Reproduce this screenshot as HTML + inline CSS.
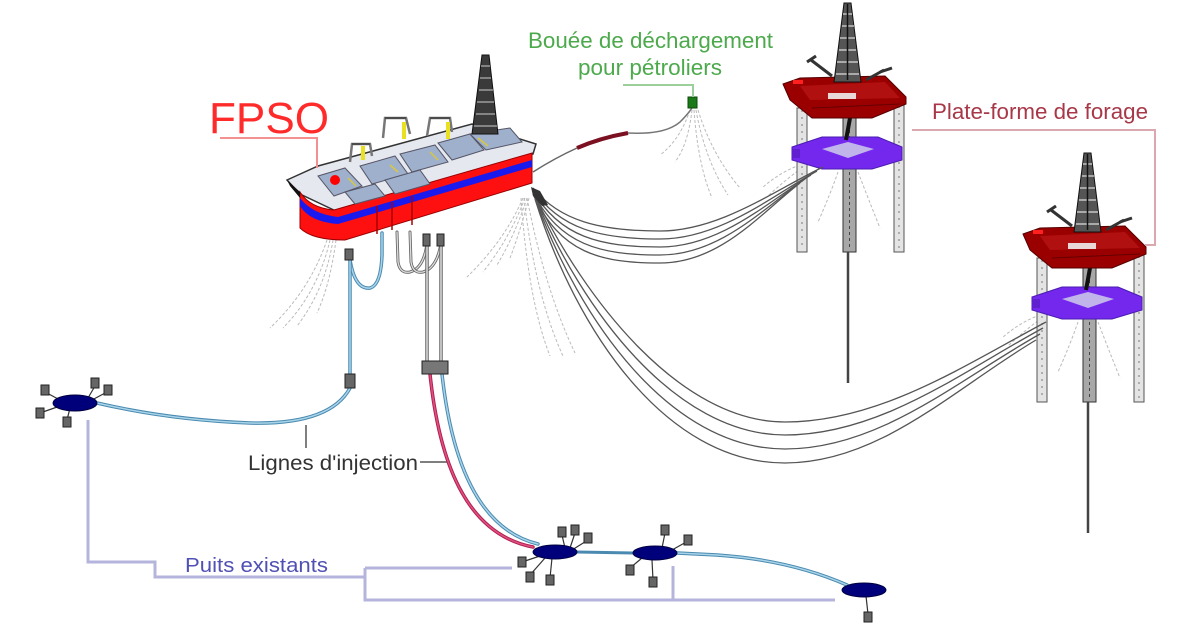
<!DOCTYPE html>
<html><head><meta charset="utf-8">
<style>
html,body{margin:0;padding:0;background:#fff;}
svg{display:block;}
text{font-family:"Liberation Sans",Arial,sans-serif;}
</style></head><body>
<svg width="1200" height="630" viewBox="0 0 1200 630" xmlns="http://www.w3.org/2000/svg">
<defs>
<g id="plat">
  <g stroke="#bbb" stroke-width="1" fill="none" stroke-dasharray="3,2">
    <path d="M800,165 Q780,172 762,188"/>
    <path d="M802,168 Q785,180 768,196"/>
    <path d="M838,172 Q830,195 818,222"/>
    <path d="M858,172 Q868,198 880,228"/>
  </g>
  <rect x="797" y="108" width="10" height="144" fill="#e4e4e4" stroke="#555" stroke-width="1"/>
  <line x1="802" y1="110" x2="802" y2="250" stroke="#777" stroke-dasharray="2,5"/>
  <rect x="894" y="104" width="10" height="148" fill="#e4e4e4" stroke="#555" stroke-width="1"/>
  <line x1="899" y1="106" x2="899" y2="250" stroke="#777" stroke-dasharray="2,5"/>
  <rect x="843" y="110" width="13" height="142" fill="#a8a8a8" stroke="#333"/>
  <line x1="849.5" y1="112" x2="849.5" y2="250" stroke="#444" stroke-dasharray="3,3"/>
  <line x1="848" y1="252" x2="848" y2="383" stroke="#444" stroke-width="2.5"/>
  <polygon points="792,147 822,137 878,137 902,147 902,160 872,169 822,169 792,160" fill="#7428ee" stroke="#4a1cb0"/>
  <polygon points="822,149 848,142 874,149 848,158" fill="#c0b4ea"/>
  <rect x="792" y="149" width="8" height="9" fill="#6020d0"/>
  <line x1="850" y1="118" x2="846" y2="140" stroke="#111" stroke-width="4"/>
  <polygon points="783,84 800,78 885,76 906,97 906,104 872,118 812,118 790,100" fill="#9a0000" stroke="#500"/>
  <polygon points="800,86 885,82 900,98 810,100" fill="#b01010"/>
  <rect x="828" y="93" width="28" height="6" fill="#e8d8d8"/>
  <rect x="793" y="80" width="10" height="4" fill="#ff2020"/>
  <line x1="812" y1="108" x2="900" y2="104" stroke="#600" stroke-width="1"/>
  <polygon points="844,3 851,3 861,82 834,82" fill="#555" stroke="#111"/>
  <g stroke="#ddd" stroke-width="1.2">
    <line x1="843" y1="14" x2="852" y2="14"/><line x1="842" y1="26" x2="854" y2="26"/>
    <line x1="840" y1="38" x2="855" y2="38"/><line x1="839" y1="50" x2="856" y2="50"/>
    <line x1="837" y1="62" x2="858" y2="62"/><line x1="836" y1="74" x2="859" y2="74"/>
  </g>
  <line x1="847.5" y1="4" x2="847.5" y2="80" stroke="#111" stroke-width="1.5"/>
  <g stroke="#333" stroke-width="3" fill="none">
    <path d="M811,60 L832,76"/><path d="M807,62 L816,56"/>
    <path d="M884,70 L866,80"/><path d="M880,72 L892,68"/>
  </g>
</g>
</defs>

<!-- dashed moorings FPSO -->
<g stroke="#bbb" stroke-width="1" fill="none" stroke-dasharray="3,2">
  <path d="M327,240 Q310,290 270,328"/>
  <path d="M330,240 Q318,292 283,328"/>
  <path d="M333,240 Q325,290 297,326"/>
  <path d="M336,240 Q330,285 317,313"/>
  <path d="M523,198 Q505,240 467,277"/>
  <path d="M525,198 Q510,238 483,272"/>
  <path d="M527,198 Q515,235 497,265"/>
  <path d="M529,198 Q520,232 510,258"/>
  <path d="M521,198 Q528,300 550,356"/>
  <path d="M524,198 Q535,295 563,356"/>
  <path d="M527,198 Q545,290 575,353"/>
  <path d="M690,110 Q680,140 660,155"/>
  <path d="M692,110 Q688,145 675,162"/>
  <path d="M694,110 Q698,165 712,198"/>
  <path d="M696,110 Q705,160 728,195"/>
  <path d="M698,110 Q712,155 740,188"/>
</g>

<!-- platforms -->
<use href="#plat"/>
<use href="#plat" transform="translate(240,150)"/>

<!-- label line platform -->
<polyline points="912,130 1155,130 1155,245 1145,245" fill="none" stroke="#dba8b0" stroke-width="2"/>

<!-- risers -->
<g stroke="#555" stroke-width="1.3" fill="none">
  <path d="M533,188 C560,221 600,231 660,231 C720,231 775,190 823,167"/>
  <path d="M533,189.5 C560,229 600,239 660,239 C720,239 772,196 817,171"/>
  <path d="M533,191 C560,237 600,247 660,247 C720,247 768,202 811,175"/>
  <path d="M533,192.5 C560,245 600,255 660,255 C720,255 764,208 805,179"/>
  <path d="M533,194 C560,253 600,263 660,263 C720,263 760,214 800,183"/>
  <path d="M535,196 C585,300 680,422 785,422 C880,422 965,365 1046,322"/>
  <path d="M535,197 C582,310 675,435 785,435 C880,435 962,372 1043,328"/>
  <path d="M535,198 C579,320 670,449 785,449 C880,449 958,380 1040,334"/>
  <path d="M535,199 C576,330 665,463 785,463 C880,463 955,388 1036,340"/>
</g>
<polygon points="531,187 540,191 548,205 542,206 533,196" fill="#333"/>

<!-- buoy line -->
<path d="M533,172 Q555,158 577,148" stroke="#666" stroke-width="1.5" fill="none"/>
<path d="M577,148 Q600,138 628,133" stroke="#7a1020" stroke-width="4" fill="none"/>
<path d="M628,133 Q665,135 680,122 Q690,112 693,106" stroke="#777" stroke-width="1.5" fill="none"/>
<rect x="688" y="97" width="9" height="11" fill="#1a7a1a" stroke="#0a4a0a"/>
<polyline points="623,85 693,85 693,97" fill="none" stroke="#9ccf9c" stroke-width="2"/>

<!-- FPSO -->
<polygon points="287,180 318,166 472,124 536,144 533,154 338,212 300,194" fill="#e6e8f0" stroke="#333" stroke-width="1.5"/>
<path d="M300,192 Q310,208 334,210 L532,153 L532,183 L345,240 Q312,240 300,228 Z" fill="#ff1010" stroke="#900" stroke-width="1"/>
<path d="M300,198 Q312,214 338,217 L532,160 L532,167 L338,224 Q310,222 300,206 Z" fill="#1a1aee"/>
<line x1="377" y1="206" x2="377" y2="234" stroke="#a00" stroke-width="1.5"/>
<line x1="392" y1="202" x2="392" y2="230" stroke="#a00" stroke-width="1.5"/>
<line x1="412" y1="196" x2="412" y2="225" stroke="#a00" stroke-width="1.5"/>
<polygon points="287,180 300,192 300,198 290,186" fill="#111"/>
<g fill="#9eb0cc" stroke="#556" stroke-width="1">
  <polygon points="318,176 345,168 362,186 334,196"/>
  <polygon points="360,166 395,156 408,174 372,184"/>
  <polygon points="400,154 435,145 448,162 412,172"/>
  <polygon points="438,143 470,134 484,150 452,160"/>
  <polygon points="470,134 510,128 522,142 486,150"/>
  <polygon points="345,192 375,184 385,196 355,204"/>
  <polygon points="385,180 420,170 430,184 395,194"/>
</g>
<g stroke="#d8c840" stroke-width="1.5">
  <line x1="348" y1="178" x2="356" y2="186"/><line x1="390" y1="165" x2="398" y2="172"/>
  <line x1="430" y1="152" x2="438" y2="160"/><line x1="478" y1="138" x2="488" y2="146"/>
</g>
<circle cx="335" cy="180" r="5" fill="#ff0000"/>
<g stroke="#777" stroke-width="2.5" fill="none">
  <path d="M350,162 L352,144 L370,144 L372,156"/>
  <path d="M383,138 L385,118 L406,118 L410,134"/>
  <path d="M427,136 L430,118 L450,118 L452,132"/>
</g>
<g stroke="#222" stroke-width="1" fill="none">
  <path d="M352,144 L370,144"/><path d="M385,118 L406,118"/><path d="M430,118 L450,118"/>
</g>
<rect x="361" y="146" width="4" height="14" fill="#e8e020"/>
<rect x="402" y="122" width="4" height="17" fill="#e8e020"/>
<rect x="446" y="122" width="4" height="17" fill="#e8e020"/>
<polygon points="482,55 489,55 498,134 472,134" fill="#3a3a3a" stroke="#111"/>
<g stroke="#ccc" stroke-width="1">
  <line x1="481" y1="66" x2="490" y2="66"/><line x1="480" y1="78" x2="491" y2="78"/>
  <line x1="479" y1="90" x2="493" y2="90"/><line x1="477" y1="102" x2="494" y2="102"/>
  <line x1="476" y1="114" x2="495" y2="114"/><line x1="474" y1="126" x2="497" y2="126"/>
</g>

<text x="209" y="133" font-size="44" fill="#ff2b2b" textLength="120" lengthAdjust="spacingAndGlyphs">FPSO</text>
<polyline points="220,138 317,138 317,168" fill="none" stroke="#f49090" stroke-width="2"/>

<!-- injection lines -->
<g fill="none" stroke-linecap="round">
  <path d="M350,260 Q355,290 370,288 Q381,285 382,255 L382,233" stroke="#4a8ab0" stroke-width="3.5"/>
  <path d="M350,260 Q355,290 370,288 Q381,285 382,255 L382,233" stroke="#a8d4ea" stroke-width="1.5"/>
  <path d="M350,260 L350,375" stroke="#4a8ab0" stroke-width="3.5"/>
  <path d="M350,260 L350,375" stroke="#a8d4ea" stroke-width="1.5"/>
  <path d="M350,388 Q330,425 250,423 Q170,420 97,403" stroke="#4a8ab0" stroke-width="3.5"/>
  <path d="M350,388 Q330,425 250,423 Q170,420 97,403" stroke="#a8d4ea" stroke-width="1.5"/>
  <path d="M397,232 L398,262 Q400,274 410,272 Q424,268 427,243" stroke="#666" stroke-width="3"/>
  <path d="M397,232 L398,262 Q400,274 410,272 Q424,268 427,243" stroke="#ddd" stroke-width="1.3"/>
  <path d="M410,232 L411,262 Q413,274 423,272 Q437,268 441,243" stroke="#666" stroke-width="3"/>
  <path d="M410,232 L411,262 Q413,274 423,272 Q437,268 441,243" stroke="#ddd" stroke-width="1.3"/>
  <path d="M427,246 L427,364 M441,246 L441,364" stroke="#666" stroke-width="3.5"/>
  <path d="M427,246 L427,364 M441,246 L441,364" stroke="#ddd" stroke-width="1.5"/>
  <path d="M430,374 C440,470 470,535 533,547" stroke="#b02050" stroke-width="3.5"/>
  <path d="M430,374 C440,470 470,535 533,547" stroke="#e05080" stroke-width="1.5"/>
  <path d="M442,374 C452,465 480,530 538,544" stroke="#4a8ab0" stroke-width="3.5"/>
  <path d="M442,374 C452,465 480,530 538,544" stroke="#a8d4ea" stroke-width="1.5"/>
  <path d="M577,552 L633,553" stroke="#4a8ab0" stroke-width="3"/>
  <path d="M677,553 L717,555 Q790,560 847,585" stroke="#4a8ab0" stroke-width="3.5"/>
  <path d="M677,553 L717,555 Q790,560 847,585" stroke="#a8d4ea" stroke-width="1.5"/>
</g>
<g fill="#666" stroke="#222" stroke-width="1">
  <rect x="345" y="249" width="8" height="11"/>
  <rect x="345" y="374" width="10" height="14"/>
  <rect x="423" y="234" width="7" height="12"/>
  <rect x="437" y="234" width="7" height="12"/>
  <rect x="422" y="361" width="26" height="13" fill="#777"/>
</g>

<g fill="none" stroke="#b4b4dc" stroke-width="3">
  <polyline points="88,420 88,562 155,562 155,577 365,577"/>
  <polyline points="365,568 512,568"/>
  <polyline points="365,568 365,600 835,600"/>
  <polyline points="673,566 673,600"/>
</g>

<g stroke="#333" stroke-width="1.2">
  <line x1="60" y1="400" x2="45" y2="392"/><line x1="88" y1="398" x2="95" y2="386"/>
  <line x1="92" y1="400" x2="107" y2="392"/><line x1="60" y1="406" x2="40" y2="413"/>
  <line x1="70" y1="408" x2="67" y2="420"/>
  <line x1="565" y1="548" x2="562" y2="535"/><line x1="570" y1="548" x2="575" y2="533"/>
  <line x1="572" y1="550" x2="588" y2="540"/><line x1="540" y1="556" x2="522" y2="562"/>
  <line x1="545" y1="558" x2="530" y2="575"/><line x1="552" y1="558" x2="550" y2="578"/>
  <line x1="662" y1="548" x2="665" y2="533"/><line x1="672" y1="550" x2="688" y2="541"/>
  <line x1="642" y1="558" x2="630" y2="568"/><line x1="652" y1="560" x2="653" y2="580"/>
  <line x1="866" y1="596" x2="868" y2="614"/>
</g>
<g fill="#00007a" stroke="#000040" stroke-width="1">
  <ellipse cx="75" cy="403" rx="22" ry="8"/>
  <ellipse cx="555" cy="552" rx="22" ry="7"/>
  <ellipse cx="655" cy="553" rx="22" ry="7"/>
  <ellipse cx="864" cy="590" rx="22" ry="7"/>
</g>
<g fill="#666" stroke="#222" stroke-width="1">
  <rect x="41" y="385" width="8" height="10"/><rect x="91" y="378" width="8" height="10"/>
  <rect x="104" y="385" width="8" height="10"/><rect x="36" y="408" width="8" height="10"/>
  <rect x="63" y="417" width="8" height="10"/>
  <rect x="558" y="527" width="8" height="10"/><rect x="571" y="525" width="8" height="10"/>
  <rect x="584" y="533" width="8" height="10"/><rect x="518" y="557" width="8" height="10"/>
  <rect x="526" y="572" width="8" height="10"/><rect x="546" y="575" width="8" height="10"/>
  <rect x="661" y="525" width="8" height="10"/><rect x="684" y="535" width="8" height="10"/>
  <rect x="626" y="565" width="8" height="10"/><rect x="649" y="577" width="8" height="10"/>
  <rect x="864" y="612" width="8" height="10"/>
</g>

<line x1="306" y1="425" x2="306" y2="448" stroke="#555" stroke-width="1.5"/>
<line x1="420" y1="462" x2="447" y2="462" stroke="#555" stroke-width="1.5"/>

<text x="528" y="48" font-size="22" fill="#4caa4c" textLength="245" lengthAdjust="spacingAndGlyphs">Bouée de déchargement</text>
<text x="578" y="75" font-size="22" fill="#4caa4c" textLength="144" lengthAdjust="spacingAndGlyphs">pour pétroliers</text>
<text x="932" y="119" font-size="22" fill="#a83848" textLength="216" lengthAdjust="spacingAndGlyphs">Plate-forme de forage</text>
<text x="248" y="470" font-size="21" fill="#333" textLength="170" lengthAdjust="spacingAndGlyphs">Lignes d'injection</text>
<text x="185" y="572" font-size="20" fill="#5050b4" textLength="143" lengthAdjust="spacingAndGlyphs">Puits existants</text>
</svg>
</body></html>
